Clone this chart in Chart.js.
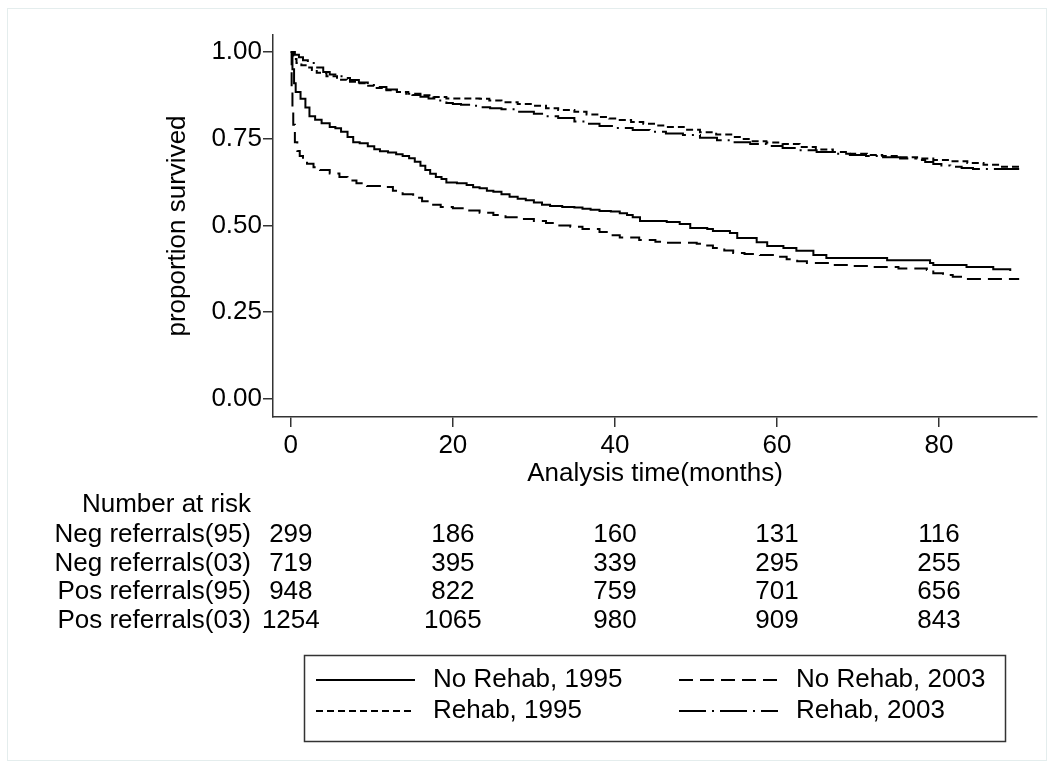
<!DOCTYPE html>
<html>
<head>
<meta charset="utf-8">
<script src="https://cdn.jsdelivr.net/npm/chart.js@4.4.1/dist/chart.umd.min.js"></script>
<style>
  html, body { margin: 0; padding: 0; background: #fff; }
  canvas { display: block; }
</style>
</head>
<body>
<canvas id="chart" width="1054" height="769"></canvas>
<script>
// Kaplan-Meier curves (months, proportion survived)
const noRehab95Months = [0, 0.2, 0.4, 0.6, 1.2, 1.8, 2.3, 3, 3.8, 4.8, 5.5, 6.2, 7, 7.7, 8.5, 9.5, 10.3, 11, 12, 13, 13.8, 14.6, 15.3, 16, 16.6, 17.2, 17.9, 18.6, 19.2, 20.5, 21.7, 22.5, 23.3, 24.2, 25, 26, 27, 28, 29, 30, 31, 32, 33.5, 35, 36, 37, 38.1, 39.5, 40.6, 41.5, 42.2, 43.1, 46.4, 48, 49.3, 51.4, 52.1, 54.2, 55.1, 57.5, 58.8, 60.8, 62.4, 64.5, 66.1, 73.6, 78.9, 79.3, 83.4, 86.7, 88.8]
const noRehab95Surv = [1.0, 0.95, 0.91, 0.885, 0.865, 0.84, 0.815, 0.805, 0.795, 0.784, 0.78, 0.77, 0.755, 0.74, 0.737, 0.728, 0.72, 0.714, 0.71, 0.705, 0.70, 0.694, 0.684, 0.672, 0.66, 0.649, 0.64, 0.634, 0.624, 0.622, 0.617, 0.61, 0.607, 0.60, 0.597, 0.59, 0.583, 0.577, 0.573, 0.566, 0.56, 0.556, 0.553, 0.552, 0.548, 0.545, 0.542, 0.54, 0.535, 0.53, 0.524, 0.513, 0.51, 0.504, 0.493, 0.49, 0.484, 0.478, 0.464, 0.452, 0.441, 0.435, 0.427, 0.415, 0.406, 0.40, 0.392, 0.386, 0.38, 0.374, 0.369]

const noRehab03Months = [0, 0.1, 0.2, 0.3, 0.5, 0.8, 1.1, 1.5, 2, 2.8, 3.6, 4.8, 6, 7, 8.1, 9.4, 11.8, 12.6, 13.8, 15.1, 16.2, 17.2, 18.5, 20, 21.5, 23.3, 25, 26.5, 28, 30, 31.5, 33, 34.5, 36, 38.1, 39.5, 40.6, 43, 45, 46.4, 50.1, 51, 52.1, 53.5, 54.6, 56, 57.9, 59.5, 61.2, 62.5, 63.7, 66.9, 69, 71.1, 75, 78.5, 79.3, 80.5, 81.7, 83.4, 89.9]
const noRehab03Surv = [1.0, 0.90, 0.84, 0.79, 0.74, 0.715, 0.70, 0.688, 0.678, 0.668, 0.66, 0.65, 0.64, 0.63, 0.622, 0.614, 0.611, 0.60, 0.59, 0.58, 0.57, 0.56, 0.553, 0.55, 0.543, 0.537, 0.53, 0.524, 0.519, 0.513, 0.507, 0.50, 0.496, 0.49, 0.481, 0.472, 0.465, 0.458, 0.453, 0.45, 0.447, 0.442, 0.435, 0.428, 0.421, 0.418, 0.415, 0.41, 0.403, 0.397, 0.392, 0.386, 0.383, 0.38, 0.376, 0.372, 0.362, 0.357, 0.352, 0.346, 0.346]

const rehab95Months = [0, 0.3, 0.7, 1.3, 2, 2.6, 3.2, 4.4, 5.7, 6.9, 8.1, 9.3, 10.6, 11.8, 13.1, 14.5, 16, 17.6, 19.2, 21, 23.3, 24.5, 26, 28, 30, 31.5, 33, 35, 36.5, 38.1, 39.3, 40.6, 42, 43.5, 45, 46.4, 48.5, 50.5, 52.5, 54.6, 55.6, 56.7, 58.7, 60.7, 62.8, 64.8, 66.9, 69, 71.1, 73, 75.2, 77.3, 79.3, 81.4, 83.5, 85.5, 87.5, 89.9]
const rehab95Surv = [1.0, 0.98, 0.968, 0.962, 0.955, 0.948, 0.94, 0.93, 0.92, 0.914, 0.91, 0.903, 0.896, 0.89, 0.885, 0.88, 0.875, 0.87, 0.866, 0.866, 0.865, 0.86, 0.855, 0.85, 0.845, 0.838, 0.833, 0.828, 0.82, 0.813, 0.808, 0.804, 0.798, 0.793, 0.788, 0.784, 0.776, 0.769, 0.762, 0.755, 0.749, 0.743, 0.739, 0.735, 0.726, 0.719, 0.712, 0.707, 0.703, 0.70, 0.697, 0.693, 0.689, 0.685, 0.68, 0.675, 0.669, 0.666]

const rehab03Months = [0, 0.5, 1, 1.5, 2.1, 3, 4, 4.8, 5.5, 6.4, 7.3, 8.4, 9.5, 10.6, 11.8, 13.1, 14, 15, 16, 17, 18.1, 19.2, 20, 21, 22.2, 23.3, 24.6, 26, 28, 30, 31.5, 33, 35, 36.5, 38.1, 40, 42.2, 44.3, 46.3, 48.4, 50.5, 52.6, 54.6, 56.7, 58.7, 60.7, 62.8, 64.9, 67, 69, 71, 73.1, 75.2, 77.3, 78.3, 79.3, 80.3, 81.4, 82.8, 84.2, 89.9]
const rehab03Surv = [1.0, 0.992, 0.985, 0.976, 0.968, 0.955, 0.942, 0.935, 0.93, 0.925, 0.919, 0.912, 0.905, 0.899, 0.892, 0.885, 0.88, 0.876, 0.871, 0.866, 0.86, 0.853, 0.85, 0.848, 0.845, 0.841, 0.838, 0.835, 0.828, 0.822, 0.815, 0.81, 0.80, 0.793, 0.787, 0.781, 0.775, 0.77, 0.765, 0.761, 0.753, 0.746, 0.74, 0.735, 0.729, 0.723, 0.717, 0.712, 0.707, 0.703, 0.70, 0.697, 0.693, 0.689, 0.683, 0.677, 0.673, 0.669, 0.666, 0.663, 0.663]

const seriesLabels = ['No Rehab, 1995', 'No Rehab, 2003', 'Rehab, 1995', 'Rehab, 2003']

const xTicks = [0, 20, 40, 60, 80]
const yTicks = [0, 0.25, 0.5, 0.75, 1]
const yTickLabels = ['0.00', '0.25', '0.50', '0.75', '1.00']

// number at risk table
const riskLabels = ['Neg referrals(95)', 'Neg referrals(03)', 'Pos referrals(95)', 'Pos referrals(03)']
const riskNeg95 = [299, 186, 160, 131, 116]
const riskNeg03 = [719, 395, 339, 295, 255]
const riskPos95 = [948, 822, 759, 701, 656]
const riskPos03 = [1254, 1065, 980, 909, 843]

const FONT = "'Liberation Sans', Arial, Helvetica, sans-serif"
const FSIZE = 26
const AXIS = '#333'

function pts(xs, ys) {
    return xs.map((x, i) => ({x: x, y: ys[i]}))
}

const dashes = [[], [14, 7], [7, 4], [27, 6, 2, 6]]
const series = [
    pts(noRehab95Months, noRehab95Surv),
    pts(noRehab03Months, noRehab03Surv),
    pts(rehab95Months, rehab95Surv),
    pts(rehab03Months, rehab03Surv)
]

const datasets = series.map((d, i) => ({
    label: seriesLabels[i],
    data: d,
    borderColor: '#000',
    borderWidth: 2,
    borderDash: dashes[i],
    pointRadius: 0,
    stepped: true,
    fill: false
}))

// background + faint outer frame
const framePlugin = {
    id: 'frame',
    beforeDraw(chart) {
        const ctx = chart.ctx
        ctx.save()
        ctx.fillStyle = '#fff'
        ctx.fillRect(0, 0, chart.width, chart.height)
        ctx.strokeStyle = '#e4eded'
        ctx.lineWidth = 1
        ctx.strokeRect(7.5, 8.5, chart.width - 15, chart.height - 17)
        ctx.restore()
    }
}

// "Number at risk" table under the x axis
const riskPlugin = {
    id: 'riskTable',
    afterDraw(chart) {
        const ctx = chart.ctx
        const xs = chart.scales.x
        const rows = [riskNeg95, riskNeg03, riskPos95, riskPos03]
        ctx.save()
        ctx.font = FSIZE + 'px ' + FONT
        ctx.fillStyle = '#000'
        ctx.textBaseline = 'middle'
        ctx.textAlign = 'right'
        ctx.fillText('Number at risk', 251, 505)
        rows.forEach((row, r) => {
            const y = 535 + r * 28.5
            ctx.textAlign = 'right'
            ctx.fillText(riskLabels[r], 251, y)
            ctx.textAlign = 'center'
            row.forEach((n, c) => {
                ctx.fillText(String(n), xs.getPixelForValue(xTicks[c]), y)
            })
        })
        ctx.restore()
    }
}

// boxed two-column legend
const legendPlugin = {
    id: 'boxLegend',
    afterDraw(chart) {
        const ctx = chart.ctx
        ctx.save()
        ctx.strokeStyle = AXIS
        ctx.lineWidth = 1.5
        ctx.strokeRect(304.5, 655.5, 701, 86)
        ctx.font = FSIZE + 'px ' + FONT
        ctx.fillStyle = '#000'
        ctx.textBaseline = 'middle'
        ctx.textAlign = 'left'
        chart.data.datasets.forEach((ds, i) => {
            const col = i % 2
            const row = Math.floor(i / 2)
            const x0 = col === 0 ? 316 : 679
            const y = row === 0 ? 680 : 711
            ctx.strokeStyle = '#000'
            ctx.lineWidth = 2
            ctx.setLineDash(ds.borderDash)
            ctx.beginPath()
            ctx.moveTo(x0, y)
            ctx.lineTo(x0 + 99, y)
            ctx.stroke()
            ctx.setLineDash([])
            ctx.fillText(ds.label, x0 + 117, y)
        })
        ctx.restore()
    }
}

const ctx = document.getElementById('chart').getContext('2d')
const myChart = new Chart(ctx, {
    type: 'line',
    data: {datasets: datasets},
    plugins: [framePlugin, riskPlugin, legendPlugin],
    options: {
        responsive: false,
        animation: false,
        layout: {padding: {left: 162, top: 35, right: 17, bottom: 280}},
        plugins: {
            legend: {display: false},
            tooltip: {enabled: false}
        },
        scales: {
            x: {
                type: 'linear',
                min: -2.2,
                max: 92.1,
                afterBuildTicks: s => { s.ticks = xTicks.map(v => ({value: v})) },
                afterFit: s => { s.height = 72 },
                ticks: {
                    color: '#000',
                    font: {family: FONT, size: FSIZE},
                    padding: 3,
                    maxRotation: 0,
                    autoSkip: false,
                    callback: v => String(v)
                },
                grid: {drawOnChartArea: false, drawTicks: true, tickLength: 10, color: AXIS, lineWidth: 1.5},
                border: {display: true, color: AXIS, width: 1.5},
                title: {display: true, text: 'Analysis time(months)', color: '#000', font: {family: FONT, size: FSIZE}, padding: 0}
            },
            y: {
                min: -0.052,
                max: 1.049,
                afterBuildTicks: s => { s.ticks = yTicks.map(v => ({value: v})) },
                afterFit: s => { s.width = 111 },
                ticks: {
                    color: '#000',
                    font: {family: FONT, size: FSIZE},
                    padding: 1,
                    autoSkip: false,
                    callback: v => yTickLabels[yTicks.indexOf(v)]
                },
                grid: {drawOnChartArea: false, drawTicks: true, tickLength: 10, color: AXIS, lineWidth: 1.5},
                border: {display: true, color: AXIS, width: 1.5},
                title: {display: true, text: 'proportion survived', color: '#000', font: {family: FONT, size: FSIZE}, padding: 0}
            }
        }
    }
})
</script>
</body>
</html>
